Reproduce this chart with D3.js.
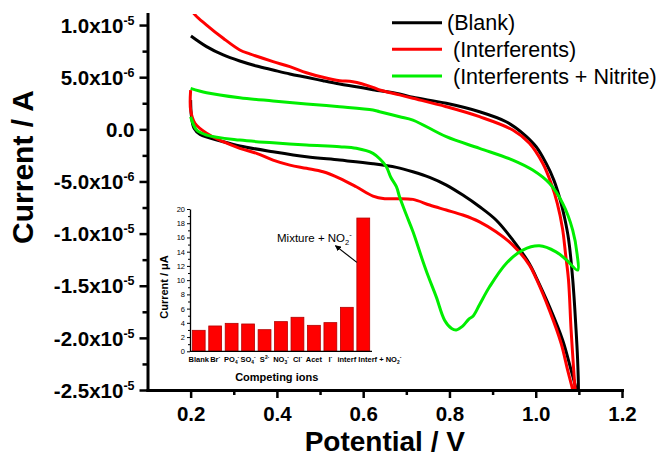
<!DOCTYPE html>
<html><head><meta charset="utf-8">
<script src="https://cdn.jsdelivr.net/npm/d3@7"></script>
<style>
body{margin:0;background:#fff}
svg{display:block;font-family:"Liberation Sans",Arial,sans-serif}
</style>
</head><body>
<svg id="chart" width="660" height="458"></svg>
<script>
// ---------------- data ----------------
const xTickValues = [0.2, 0.4, 0.6, 0.8, 1.0, 1.2];
const xMinorValues = [0.3, 0.5, 0.7, 0.9, 1.1];
const yTickValues = [1e-5, 5e-6, 0, -5e-6, -1e-5, -1.5e-5, -2e-5, -2.5e-5];
const yMinorValues = [7.5e-6, 2.5e-6, -2.5e-6, -7.5e-6, -1.25e-5, -1.75e-5, -2.25e-5];
const yTickMantissa = ["1.0", "5.0", "0.0", "-5.0", "-1.0", "-1.5", "-2.0", "-2.5"];
const yTickExponent = ["-5", "-6", "", "-6", "-5", "-5", "-5", "-5"];

const seriesNames = ["(Blank)", " (Interferents)", " (Interferents + Nitrite)"];

// [potential V, current in 1e-6 A]
const blankCurve = [
  [0.200, 2.8], [0.202, 1.2], [0.208, 0.1], [0.222, -0.5], [0.2755, -1.19], [0.314, -1.60],
  [0.391, -2.15], [0.4685, -2.63], [0.5456, -2.95], [0.6227, -3.30], [0.677, -3.65],
  [0.715, -4.07], [0.754, -4.61], [0.793, -5.35], [0.831, -6.31], [0.870, -7.43],
  [0.908, -8.70], [0.947, -10.62], [0.985, -12.86], [1.001, -14.2], [1.032, -17.02],
  [1.0625, -20.22], [1.082, -23.1], [1.094, -25.0], [1.098, -26.0],
  [1.099, -25.0], [1.097, -22.0], [1.0935, -19.24], [1.086, -14.5], [1.076, -10.5],
  [1.068, -8.7], [1.057, -6.8], [1.042, -4.87], [1.024, -3.26], [1.001, -1.67],
  [0.970, -0.38], [0.9315, 0.73], [0.8697, 1.69], [0.7926, 2.50], [0.715, 3.07],
  [0.6845, 3.39], [0.6227, 3.80], [0.584, 4.09], [0.5456, 4.35], [0.507, 4.66],
  [0.4685, 4.99], [0.430, 5.31], [0.391, 5.69], [0.3528, 6.07], [0.314, 6.55],
  [0.2755, 7.13], [0.237, 7.93], [0.2007, 8.95]
];
const interfCurve = [
  [0.200, 3.76], [0.200, 1.85], [0.210, 0.58], [0.237, -0.38], [0.2755, -1.19], [0.314, -1.82],
  [0.3528, -2.30], [0.391, -2.95], [0.430, -3.43], [0.4685, -3.74], [0.507, -4.07],
  [0.5456, -4.70], [0.584, -5.51], [0.6227, -6.40], [0.650, -6.65], [0.677, -6.65],
  [0.7153, -6.72], [0.754, -7.26], [0.7926, -7.74], [0.831, -8.22], [0.8697, -8.87],
  [0.908, -9.83], [0.9468, -11.1], [0.9854, -13.02], [1.001, -14.3], [1.0317, -17.34],
  [1.059, -20.54], [1.074, -23.1], [1.0857, -25.0], [1.090, -26.0],
  [1.092, -25.5], [1.0896, -24.04], [1.082, -19.24], [1.076, -14.46], [1.069, -11.9],
  [1.062, -9.5], [1.050, -7.1], [1.0357, -5.18], [1.0162, -3.26], [0.9854, -1.34],
  [0.9468, -0.07], [0.8697, 1.21], [0.7926, 2.17], [0.7153, 2.98], [0.6845, 3.30],
  [0.638, 3.77], [0.6227, 4.03], [0.576, 4.57], [0.5456, 4.66], [0.507, 4.99],
  [0.4685, 5.43], [0.430, 6.01], [0.391, 6.49], [0.337, 7.23], [0.314, 7.61],
  [0.2755, 8.73], [0.237, 10.0], [0.2083, 11.07], [0.200, 11.8]
];
const nitriteCurve = [
  [0.200, 1.21], [0.214, -0.07], [0.237, -0.55], [0.314, -1.03], [0.391, -1.29],
  [0.4685, -1.51], [0.5456, -1.67], [0.584, -1.82], [0.6227, -2.30], [0.640, -2.90],
  [0.6537, -3.59], [0.664, -4.6], [0.677, -5.5], [0.6845, -6.5], [0.700, -8.2],
  [0.7153, -9.8], [0.738, -12.6], [0.750, -14.0], [0.7694, -16.07], [0.7887, -18.3],
  [0.805, -19.1], [0.8157, -19.24], [0.830, -18.9], [0.845, -18.2], [0.855, -17.9],
  [0.870, -16.8], [0.893, -15.1], [0.9315, -12.86], [0.970, -11.58], [1.0086, -11.17],
  [1.047, -11.75], [1.0705, -12.5], [1.0973, -13.5],
  [1.096, -12.0], [1.0857, -9.66], [1.0625, -7.10], [1.0317, -5.18], [0.993, -3.91],
  [0.9468, -2.95], [0.8697, -1.82], [0.7926, -0.71], [0.7153, 0.89], [0.6845, 1.21],
  [0.638, 1.69], [0.6227, 1.85], [0.5456, 2.17], [0.4685, 2.43], [0.391, 2.72],
  [0.314, 3.03], [0.237, 3.51], [0.200, 3.93]
];

// inset bar chart
const insetCategories = ["Blank", "Br^-", "PO_4^-", "SO_4^-", "S^2-", "NO_3^-", "Cl^-", "Acet", "I^-", "interf", "Interf + NO_2^-"];
const insetValues = [2.95, 3.56, 3.93, 3.84, 3.04, 4.17, 4.78, 3.65, 4.03, 6.18, 18.73];
const insetYTicks = [0, 2, 4, 6, 8, 10, 12, 14, 16, 18, 20];
const insetYMinor = [1, 3, 5, 7, 9, 11, 13, 15, 17, 19];

// ---------------- styles ----------------
const seriesColors = ["#000000", "#ff0000", "#00ee00"];
const FONT = '"Liberation Sans",Arial,sans-serif';

const svg = d3.select("#chart");

// ---------------- main scales ----------------
const x = d3.scaleLinear([0.1, 1.2], [147.5, 622]);
const y = d3.scaleLinear([-2.5e-5, 1.106e-5], [390, 14]);

// clip
svg.append("defs").append("clipPath").attr("id", "plotClip")
  .append("rect").attr("x", x(0.1)).attr("y", y(1.106e-5))
  .attr("width", x(1.2) - x(0.1)).attr("height", y(-2.5e-5) - y(1.106e-5));

// curves
const line = d3.line()
  .x(d => x(d[0]))
  .y(d => y(d[1] * 1e-6))
  .curve(d3.curveCatmullRom.alpha(0.5));

const curves = [blankCurve, interfCurve, nitriteCurve];
const gCurves = svg.append("g").attr("clip-path", "url(#plotClip)");
curves.forEach((c, i) => {
  gCurves.append("path").attr("d", line(c))
    .attr("fill", "none").attr("stroke", seriesColors[i])
    .attr("stroke-width", 3).attr("stroke-linejoin", "round");
});

// axes
const gx = svg.append("g").attr("transform", `translate(0,${y(-2.5e-5)})`)
  .call(d3.axisBottom(x).tickValues(xTickValues).tickSize(8).tickSizeOuter(0)
    .tickFormat(d3.format(".1f")));
gx.select(".domain").attr("stroke-width", 3).attr("stroke-linecap", "square");
gx.selectAll(".tick line").attr("stroke-width", 2.5);
gx.selectAll(".tick text").attr("y", 31).attr("dy", 0)
  .attr("font-size", 20.5).attr("font-weight", "bold").attr("font-family", FONT).attr("fill", "#000");

const gxm = svg.append("g").attr("transform", `translate(0,${y(-2.5e-5)})`)
  .call(d3.axisBottom(x).tickValues(xMinorValues).tickSize(5).tickFormat(""));
gxm.select(".domain").remove();
gxm.selectAll(".tick line").attr("stroke-width", 2.5);

const gy = svg.append("g").attr("transform", `translate(${x(0.1)},0)`)
  .call(d3.axisLeft(y).tickValues(yTickValues).tickSize(8).tickSizeOuter(0).tickFormat(""));
gy.select(".domain").attr("stroke-width", 3).attr("stroke-linecap", "square");
gy.selectAll(".tick line").attr("stroke-width", 2.5);
gy.selectAll(".tick text").each(function (d, i) {
  const t = d3.select(this).text(null)
    .attr("x", -13).attr("dy", "0.35em").attr("text-anchor", "end")
    .attr("font-size", 20.5).attr("font-weight", "bold").attr("font-family", FONT).attr("fill", "#000");
  if (yTickExponent[i]) {
    t.append("tspan").text(yTickMantissa[i] + "x10");
    t.append("tspan").attr("font-size", 12.5).attr("dy", -8).text(yTickExponent[i]);
  } else {
    t.append("tspan").text(yTickMantissa[i]);
  }
});

const gym = svg.append("g").attr("transform", `translate(${x(0.1)},0)`)
  .call(d3.axisLeft(y).tickValues(yMinorValues).tickSize(5).tickFormat(""));
gym.select(".domain").remove();
gym.selectAll(".tick line").attr("stroke-width", 2.5);

// axis titles
svg.append("text").attr("x", (x(0.1) + x(1.2)) / 2).attr("y", 451)
  .attr("text-anchor", "middle").attr("font-size", 28).attr("font-weight", "bold")
  .attr("font-family", FONT).text("Potential / V");
svg.append("text").attr("transform", "translate(33,167) rotate(-90)")
  .attr("text-anchor", "middle").attr("font-size", 30).attr("font-weight", "bold")
  .attr("font-family", FONT).text("Current / A");

// legend
const legendY = [22.7, 49.3, 76];
seriesNames.forEach((n, i) => {
  svg.append("line").attr("x1", 392).attr("x2", 442)
    .attr("y1", legendY[i]).attr("y2", legendY[i])
    .attr("stroke", seriesColors[i]).attr("stroke-width", 3);
  svg.append("text").attr("x", 447).attr("y", legendY[i] + 7.5)
    .attr("font-size", 21.5).attr("font-family", FONT).style("white-space", "pre")
    .text(n);
});

// ---------------- inset ----------------
const xb = d3.scaleBand(insetCategories, [190, 372]).paddingInner(0.22).paddingOuter(0.14);
const yI = d3.scaleLinear([0, 20], [351.3, 209]);

function richText(sel, str, size) {
  const tokens = str.match(/_[^_^]|\^[^_^ ]+|[^_^]+/g);
  let offset = 0;
  tokens.forEach(tok => {
    if (tok[0] === "_") {
      const target = size * 0.3;
      sel.append("tspan").attr("font-size", size * 0.65).attr("dy", target - offset).text(tok.slice(1));
      offset = target;
    } else if (tok[0] === "^") {
      const target = -size * 0.4;
      sel.append("tspan").attr("font-size", size * 0.65).attr("dy", target - offset).text(tok.slice(1));
      offset = target;
    } else {
      sel.append("tspan").attr("font-size", size).attr("dy", -offset).text(tok);
      offset = 0;
    }
  });
}

const gInset = svg.append("g");
gInset.selectAll("rect.bar").data(insetValues).join("rect")
  .attr("class", "bar")
  .attr("x", (d, i) => xb(insetCategories[i]))
  .attr("width", xb.bandwidth())
  .attr("y", d => yI(d))
  .attr("height", d => yI(0) - yI(d))
  .attr("fill", "#ff0000").attr("stroke", "#b30000").attr("stroke-width", 0.8);

const giy = gInset.append("g").attr("transform", `translate(190,0)`)
  .call(d3.axisLeft(yI).tickValues(insetYTicks).tickSize(3).tickSizeOuter(0).tickPadding(2));
giy.select(".domain").attr("stroke-width", 1.3);
giy.selectAll(".tick line").attr("stroke-width", 1);
giy.selectAll(".tick text").attr("font-size", 7.5).attr("font-family", FONT).attr("fill", "#000");
const giym = gInset.append("g").attr("transform", `translate(190,0)`)
  .call(d3.axisLeft(yI).tickValues(insetYMinor).tickSize(2).tickFormat(""));
giym.select(".domain").remove();
giym.selectAll(".tick line").attr("stroke-width", 1);

gInset.append("line").attr("x1", 190).attr("x2", 372)
  .attr("y1", yI(0)).attr("y2", yI(0)).attr("stroke", "#000").attr("stroke-width", 1.3);

insetCategories.forEach((c, i) => {
  const last = i === insetCategories.length - 1;
  const t = gInset.append("text")
    .attr("x", last ? xb(c) + 1.5 : xb(c) + xb.bandwidth() / 2)
    .attr("y", 362)
    .attr("text-anchor", last ? "start" : "middle")
    .attr("font-weight", "bold").attr("font-family", FONT);
  richText(t, c, 7.5);
});

gInset.append("text").attr("x", 276.7).attr("y", 380.5).attr("text-anchor", "middle")
  .attr("font-size", 11).attr("font-weight", "bold").attr("font-family", FONT).text("Competing ions");
gInset.append("text").attr("transform", "translate(168,287) rotate(-90)").attr("text-anchor", "middle")
  .attr("font-size", 11).attr("font-weight", "bold").attr("font-family", FONT).text("Current / \u03bcA");

// annotation
const lastCat = insetCategories[insetCategories.length - 1];
const ann = gInset.append("text").attr("x", 277).attr("y", yI(15.4)).attr("font-family", FONT);
richText(ann, "Mixture + NO_2^-", 11.5);

svg.select("defs").append("marker").attr("id", "arrow")
  .attr("viewBox", "0 0 10 10").attr("refX", 9).attr("refY", 5)
  .attr("markerWidth", 6).attr("markerHeight", 6).attr("markerUnits", "userSpaceOnUse")
  .attr("orient", "auto")
  .append("path").attr("d", "M0,0L10,5L0,10z").attr("fill", "#000");
gInset.append("line")
  .attr("x1", xb(lastCat)).attr("y1", yI(12.5))
  .attr("x2", xb(lastCat) - 21.5).attr("y2", yI(14.85))
  .attr("stroke", "#000").attr("stroke-width", 1.2).attr("marker-end", "url(#arrow)");
</script>
</body></html>
